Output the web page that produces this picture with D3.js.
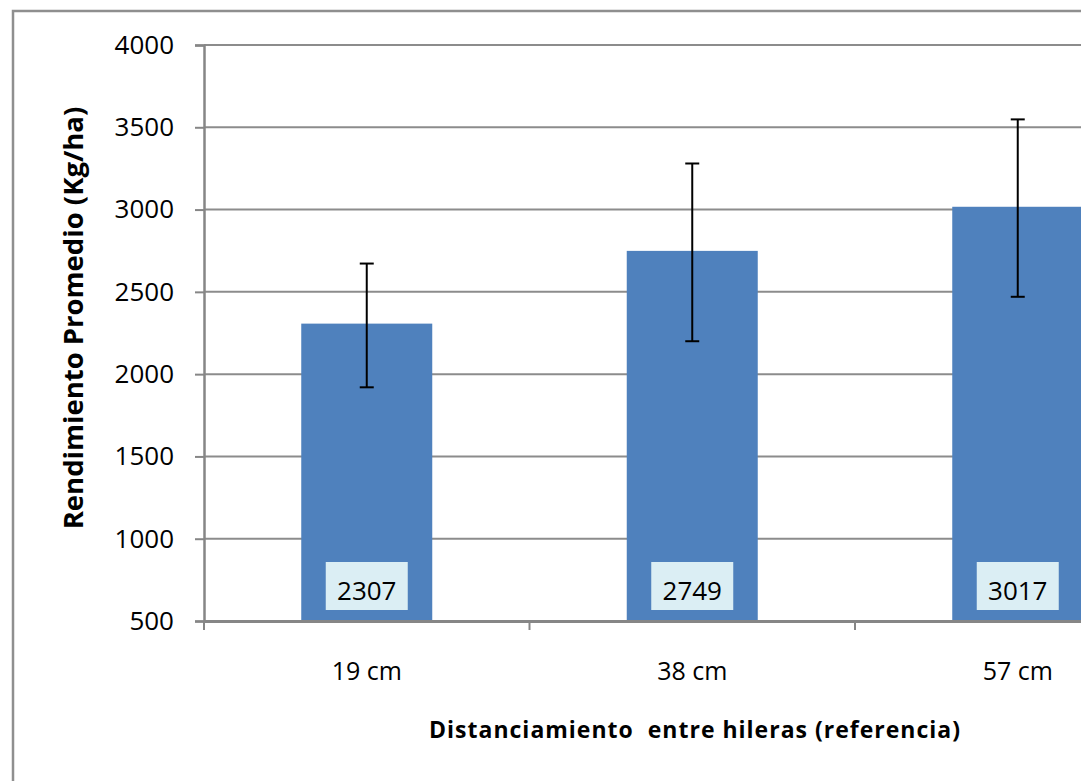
<!DOCTYPE html>
<html><head><meta charset="utf-8">
<script src="https://cdn.jsdelivr.net/npm/d3@7"></script>
<style>body{margin:0;background:#fff;overflow:hidden}svg{display:block}</style>
</head><body>
<svg id="c" width="1081" height="781"></svg>
<script>
const categories = ["19 cm", "38 cm", "57 cm"];
const values = [2307, 2749, 3017];
const errLow = [1920, 2200, 2470];
const errHigh = [2672, 3280, 3548];
const yTicks = [500, 1000, 1500, 2000, 2500, 3000, 3500, 4000];

(function () {
const svg = d3.select("#c");
const font = "'Open Sans', sans-serif";
const pLeft = 204, pRight = 1180.5, pTop = 45, pBottom = 621;

// outer border
svg.append("rect").attr("x", 13).attr("y", 11).attr("width", 1200).attr("height", 900)
  .attr("fill", "none").attr("stroke", "#8f8f8f").attr("stroke-width", 2.5);

const x = d3.scaleBand().domain(categories).range([pLeft, pRight]).padding(0);
const y = d3.scaleLinear().domain([500, 4000]).range([pBottom, pTop]);

// gridlines
svg.append("g").selectAll("line").data(yTicks.slice(1)).join("line")
  .attr("x1", pLeft).attr("x2", 1081).attr("y1", d => y(d)).attr("y2", d => y(d))
  .attr("stroke", "#8c8c8c").attr("stroke-width", 2);

// y axis
const ya = svg.append("g").attr("transform", `translate(${pLeft},0)`)
  .call(d3.axisLeft(y).tickValues(yTicks).tickSize(9).tickPadding(21).tickFormat(d3.format("d")));
ya.select(".domain").attr("stroke", "#868686").attr("stroke-width", 2.5);
ya.selectAll(".tick line").attr("stroke", "#868686").attr("stroke-width", 2);
ya.selectAll(".tick text").attr("font-family", font).attr("font-size", 26).attr("fill", "#000");

// bars
const bw = 131;
svg.append("g").selectAll("rect").data(categories).join("rect")
  .attr("x", d => x(d) + x.bandwidth() / 2 - bw / 2)
  .attr("y", (d, i) => y(values[i]))
  .attr("width", bw)
  .attr("height", (d, i) => y(500) - y(values[i]))
  .attr("fill", "#4f81bd");

// x axis
const xa = svg.append("g").attr("transform", `translate(0,${pBottom})`)
  .call(d3.axisBottom(x).tickSize(0).tickPadding(41));
xa.select(".domain").attr("stroke", "#868686").attr("stroke-width", 3);
xa.selectAll(".tick text").attr("font-family", font).attr("font-size", 25).attr("fill", "#000");
svg.append("g").selectAll("line").data(categories).join("line")
  .attr("x1", d => x(d)).attr("x2", d => x(d))
  .attr("y1", pBottom).attr("y2", pBottom + 9)
  .attr("stroke", "#868686").attr("stroke-width", 2);

// error bars
const eb = svg.append("g").attr("stroke", "#000").attr("stroke-width", 2);
categories.forEach((c, i) => {
  const cx = x(c) + x.bandwidth() / 2;
  eb.append("line").attr("x1", cx).attr("x2", cx).attr("y1", y(errLow[i])).attr("y2", y(errHigh[i]));
  eb.append("line").attr("x1", cx - 7).attr("x2", cx + 7).attr("y1", y(errLow[i])).attr("y2", y(errLow[i]));
  eb.append("line").attr("x1", cx - 7).attr("x2", cx + 7).attr("y1", y(errHigh[i])).attr("y2", y(errHigh[i]));
});

// value labels
const lg = svg.append("g");
categories.forEach((c, i) => {
  const cx = x(c) + x.bandwidth() / 2;
  lg.append("rect").attr("x", cx - 41).attr("y", 562).attr("width", 82).attr("height", 48)
    .attr("fill", "#dbeef4");
  lg.append("text").attr("x", cx).attr("y", 600).attr("text-anchor", "middle")
    .attr("font-family", font).attr("font-size", 26).attr("fill", "#000").text(values[i]);
});

// axis titles
svg.append("text").attr("transform", "translate(83,318) rotate(-90)").attr("text-anchor", "middle")
  .attr("font-family", font).attr("font-weight", "bold").attr("font-size", 27.5).text("Rendimiento Promedio (Kg/ha)");
svg.append("text").attr("x", 695).attr("y", 738).attr("text-anchor", "middle")
  .attr("font-family", font).attr("font-weight", "bold").attr("font-size", 23).attr("letter-spacing", 1)
  .attr("xml:space", "preserve")
  .text("Distanciamiento  entre hileras (referencia)");
})();
</script>
</body></html>
